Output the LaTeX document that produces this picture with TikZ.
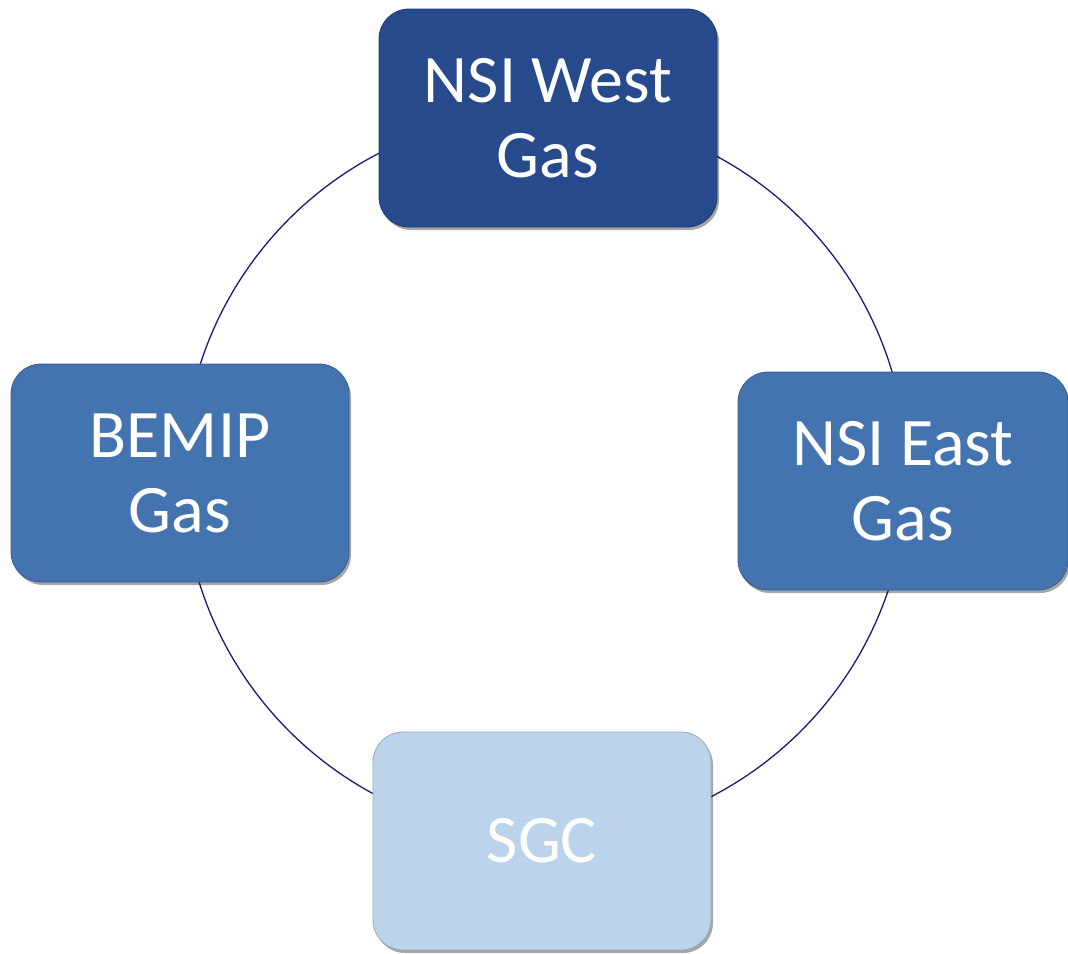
\documentclass[tikz,border=0pt]{standalone}
\usepackage{fontspec}
\setmainfont{Carlito}
\usetikzlibrary{shadows}
\definecolor{darkbox}{HTML}{264A8C}
\definecolor{midbox}{HTML}{4474B0}
\definecolor{lightbox}{HTML}{BCD3EC}
\definecolor{ringcol}{HTML}{1A1A78}
\tikzset{
  cyclebox/.style={rectangle, rounded corners=30pt, minimum width=338pt, minimum height=218pt,
    draw=#1!80!black, line width=0.8pt, fill=#1, text=white, align=center,
    font=\fontsize{68}{75}\selectfont,
    drop shadow={shadow xshift=2pt, shadow yshift=-3pt, opacity=0.35, fill=black}},
  ring/.style={draw=ringcol, line width=1.3pt}
}
\begin{document}
\begin{tikzpicture}[x=1pt,y=-1pt]
\useasboundingbox (0,0) rectangle (1068,953);
\coordinate (c) at (545,475);
\draw[ring] (c) circle[radius=362pt];
\node[cyclebox=darkbox] (west) at (548,118) {NSI West\\Gas};
\node[cyclebox=midbox] (bemip) at (180,473) {BEMIP\\Gas};
\node[cyclebox=midbox, minimum width=330pt] (east) at (903,481) {NSI East\\Gas};
\node[cyclebox=lightbox] (sgc) at (542,841) {SGC};
\end{tikzpicture}
\end{document}
